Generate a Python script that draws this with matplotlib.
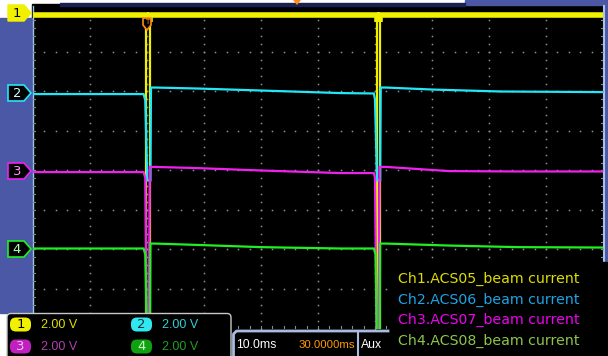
import matplotlib
matplotlib.use("Agg")
import numpy as np
import matplotlib.pyplot as plt
from matplotlib.patches import Rectangle, Polygon, FancyBboxPatch

# ---- scope settings ----
volts_per_div = 2.0
ms_per_div = 10.0
t_left, t_right = -20.0, 80.0
ch_offsets = [4, 2, 0, -2]          # marker position in divisions
ch_colors = ["#f0f000", "#20e8f8", "#f020f0", "#20f020"]

# ---- traces (time in ms, level in V) ----
t1 = [-20, -0.1, -0.1, 0.5, 0.5, 40.3, 40.3, 40.9, 40.9, 80]
v1 = [-0.13, -0.13, -17, -17, -0.13, -0.13, -17, -17, -0.13, -0.13]

t2 = [-20, -0.6, -0.3, 0.05, 0.6, 0.7, 1.5, 9, 20, 34, 39.8, 40.0, 40.35, 40.9, 41.0, 42, 50, 62, 80]
v2 = [-0.13, -0.13, -0.45, -4.5, -4.5, 0.2, 0.2, 0.15, 0.05, -0.08, -0.1, -0.4, -4.5, -4.5, 0.2, 0.2, 0.1, 0.0, -0.03]

t3 = [-20, -0.6, -0.3, 0.0, 0.3, 0.5, 1.5, 9, 20, 34, 39.8, 40.0, 40.3, 40.6, 40.8, 42, 53, 65, 80]
v3 = [-0.08, -0.08, -0.38, -9, -9, 0.18, 0.18, 0.12, 0.0, -0.13, -0.13, -0.38, -9, -9, 0.18, 0.18, -0.03, -0.05, -0.05]

t4 = [-20, -0.6, -0.3, 0.1, 0.5, 0.6, 1.5, 9, 20, 34, 39.8, 40.1, 40.4, 40.8, 40.9, 42, 53, 65, 80]
v4 = [0.05, 0.05, -0.25, -6, -6, 0.3, 0.3, 0.23, 0.12, 0.05, 0.05, -0.25, -6, -6, 0.3, 0.3, 0.2, 0.12, 0.1]

traces = [(t1, v1), (t2, v2), (t3, v3), (t4, v4)]

legend_labels = ["Ch1.ACS05_beam current", "Ch2.ACS06_beam current",
                 "Ch3.ACS07_beam current", "Ch4.ACS08_beam current"]
legend_colors = ["#dcdc00", "#1ca4e4", "#f000f0", "#8cc44c"]

scale_labels = ["2.00 V", "2.00 V", "2.00 V", "2.00 V"]
timebase_label = "10.0ms"
delay_label = "30.0000ms"

W, H = 608, 356
fig = plt.figure(figsize=(W / 100, H / 100), dpi=100, facecolor="white")


def px_axes(x, y, w, h, z):
    a = fig.add_axes([x / W, 1 - (y + h) / H, w / W, h / H], zorder=z)
    return a


# ---- background (pixel coords) ----
bg = px_axes(0, 0, W, H, 0)
bg.set_xlim(0, W)
bg.set_ylim(H, 0)
bg.axis("off")
bg.add_patch(Rectangle((32, 4), W - 32, H - 4, color="black"))
bg.add_patch(Rectangle((0, 18), 32, 295, color="#4a58a6"))
bg.add_patch(Rectangle((604, 4), 4, 325, color="#4a58a6"))
bg.add_patch(Rectangle((465, 0), W - 465, 5, color="#4a58a6"))
bg.add_patch(Rectangle((60, 3), 405, 3, color="#1a2050"))
bg.plot([32.5, 32.5], [6, 313], color="#9cc8e8", lw=1)
bg.plot([603.5, 603.5], [6, 329], color="#a8c4ec", lw=1.5)

# ---- screen ----
ax = px_axes(33, 12.5, 570, 316, 1)
ax.set_xlim(t_left, t_right)
ax.set_ylim(-4, 4)
ax.axis("off")
ax.patch.set_visible(False)

dot = dict(ls="none", marker="s", ms=1.1, color="#909090", mew=0)
minor_y = np.arange(-4, 4.01, 0.2)
minor_x = np.arange(t_left, t_right + 0.01, 2.0)
for k in range(1, 10):
    xk = t_left + k * ms_per_div
    ax.plot(np.full_like(minor_y, xk), minor_y, **dot)
for j in range(-3, 4):
    ax.plot(minor_x, np.full_like(minor_x, j), **dot)
# edge ticks
for xv in minor_x:
    ax.plot([xv, xv], [-4, -3.93], color="#8a8a8a", lw=0.8)
for yv in minor_y:
    ax.plot([t_left, t_left + 0.35], [yv, yv], color="#8a8a8a", lw=0.8)
    ax.plot([t_right - 0.35, t_right], [yv, yv], color="#8a8a8a", lw=0.8)

for (t, v), off, c in zip(traces, ch_offsets, ch_colors):
    y = off + np.array(v) / volts_per_div
    ax.plot(t, y, color=c, lw=1.6, solid_joinstyle="miter")

# ch1 sits on the top edge and looks like a fat noisy band there
y1 = ch_offsets[0] + np.array(v1) / volts_per_div
band, = ax.plot(t1, y1, color=ch_colors[0], lw=4, solid_joinstyle="miter")
clip = Rectangle((0, 0.97), 1, 0.04, transform=ax.transAxes, visible=False)
ax.add_patch(clip)
band.set_clip_path(clip)

# ---- overlay (pixel coords) ----
ov = px_axes(0, 0, W, H, 2)
ov.set_xlim(0, W)
ov.set_ylim(H, 0)
ov.axis("off")
ov.patch.set_visible(False)

# channel markers
for ch, (yc, c) in enumerate(zip([13, 93, 171, 249], ch_colors)):
    pts = [(8, yc - 8), (24, yc - 8), (31, yc), (24, yc + 8), (8, yc + 8)]
    if ch == 0:
        ov.add_patch(Polygon(pts, closed=True, fc=c, ec=c, lw=1))
        tc = "black"
    else:
        ov.add_patch(Polygon(pts, closed=True, fc="black", ec=c, lw=1.2))
        tc = ["#c8ffff", "#ff90ff", "#b0ffb0"][ch - 1]
    ov.text(17, yc + 0.5, str(ch + 1), color=tc, fontsize=9.5, ha="center", va="center")

# trigger marker
ov.add_patch(Polygon([(143, 18), (151, 18), (151, 25), (147, 30), (143, 25)],
                     closed=True, fc="black", ec="#ff8c1a", lw=1.2))
ov.text(147, 22.5, "T", color="#ff8c1a", fontsize=5, ha="center", va="center")
ov.add_patch(Polygon([(293, 0), (301, 0), (297, 5)], closed=True, fc="#ff8c1a", ec="none"))

# channel scale box
ov.add_patch(FancyBboxPatch((7, 313.5), 224, 46, boxstyle="round,pad=0,rounding_size=4",
                            fc="black", ec="#c8c8c8", lw=1))
badge_pos = [(10, 317.5), (131, 317.5), (10, 339.5), (131, 339.5)]
badge_fc = ["#f0f000", "#30e8f0", "#c020c0", "#10a010"]
badge_tc = ["black", "#103040", "#ffc0ff", "#c0ffc0"]
text_c = ["#e0e000", "#30d0d8", "#b040b0", "#20a020"]
for i, ((bx, by), fc, tc, sc) in enumerate(zip(badge_pos, badge_fc, badge_tc, text_c)):
    ov.add_patch(FancyBboxPatch((bx, by), 21, 14, boxstyle="round,pad=0,rounding_size=6",
                                fc=fc, ec="none"))
    ov.text(bx + 10.5, by + 7.5, str(i + 1), color=tc, fontsize=9.5, ha="center", va="center")
    ov.text(bx + 31, by + 7.5, scale_labels[i], color=sc, fontsize=9,
            family="Liberation Sans", ha="left", va="center")

# timebase box
lc = "#a8bce0"
ov.plot([233.5, 233.5, 236.5, 388], [356, 334, 331, 331], color=lc, lw=2)
ov.plot([358, 358], [331, 356], color=lc, lw=1.5)
ov.text(236, 344.5, timebase_label, color="white", fontsize=8.8, family="Liberation Sans", va="center")
ov.text(299, 344.5, delay_label, color="#ff9a00", fontsize=8.2, family="Liberation Sans", va="center")
ov.text(361, 344.5, "Aux", color="white", fontsize=8.8, family="Liberation Sans", va="center")

# channel legend (annotation)
ov.add_patch(Rectangle((390, 262), W - 390, H - 262, color="black"))
for k, (lab, c) in enumerate(zip(legend_labels, legend_colors)):
    ov.text(398, 279 + 20.7 * k, lab, color=c, fontsize=10.2, ha="left", va="center")

fig.savefig("out.png", dpi=100, facecolor="white")
